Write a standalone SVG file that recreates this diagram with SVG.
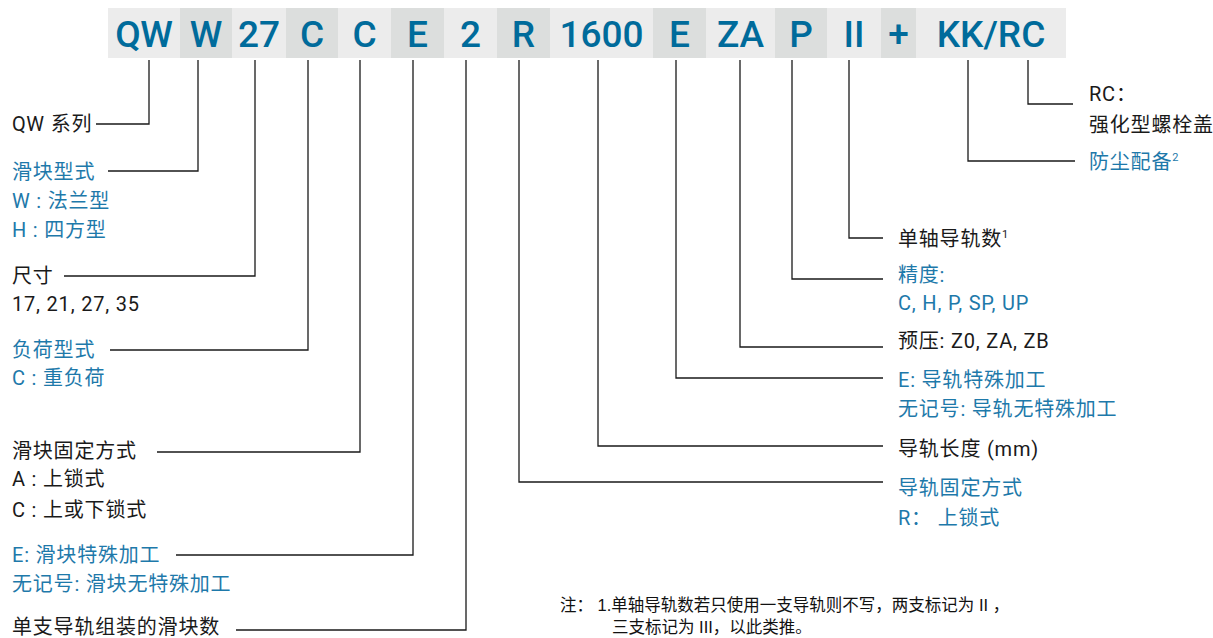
<svg xmlns="http://www.w3.org/2000/svg" width="1213" height="638" viewBox="0 0 1213 638">
<style>
.bg{fill:#ffffff}
.lt{fill:#ececec}
.dk{fill:#dcdedd}
.code{font-family:Roboto,"Noto Sans CJK SC",sans-serif;font-size:37px;font-weight:500;fill:#006b9b;text-anchor:middle}
.lbl{font-family:Roboto,"Noto Sans CJK SC",sans-serif;font-size:20px;letter-spacing:0.8px}
.k{fill:#1a1a1a}
.b{fill:#1e79aa}
.note{font-family:"Liberation Sans","Noto Sans CJK SC",sans-serif;font-size:16.5px;fill:#111111}
.sup{font-size:11px}
.conn{fill:none;stroke:#1a1a1a;stroke-width:1.3}
</style>
<rect class="bg" x="0" y="0" width="1213" height="638"/>
<g id="code-bar">
  <g id="c-qw"><rect class="lt" x="108" y="8" width="72" height="50"/><text class="code" x="144" y="47">QW</text></g>
  <g id="c-w"><rect class="dk" x="180" y="8" width="52" height="50"/><text class="code" x="206" y="47">W</text></g>
  <g id="c-27"><rect class="lt" x="232" y="8" width="54" height="50"/><text class="code" x="259" y="47">27</text></g>
  <g id="c-c1"><rect class="dk" x="286" y="8" width="52" height="50"/><text class="code" x="312" y="47">C</text></g>
  <g id="c-c2"><rect class="lt" x="338" y="8" width="53" height="50"/><text class="code" x="364.5" y="47">C</text></g>
  <g id="c-e1"><rect class="dk" x="391" y="8" width="53" height="50"/><text class="code" x="417.5" y="47">E</text></g>
  <g id="c-2"><rect class="lt" x="444" y="8" width="53" height="50"/><text class="code" x="470.5" y="47">2</text></g>
  <g id="c-r"><rect class="dk" x="497" y="8" width="53" height="50"/><text class="code" x="523.5" y="47">R</text></g>
  <g id="c-1600"><rect class="lt" x="550" y="8" width="103" height="50"/><text class="code" x="601.5" y="47">1600</text></g>
  <g id="c-e2"><rect class="dk" x="653" y="8" width="53" height="50"/><text class="code" x="679.5" y="47">E</text></g>
  <g id="c-za"><rect class="lt" x="706" y="8" width="69" height="50"/><text class="code" x="740.5" y="47">ZA</text></g>
  <g id="c-p"><rect class="dk" x="775" y="8" width="52" height="50"/><text class="code" x="801" y="47">P</text></g>
  <g id="c-ii"><rect class="lt" x="827" y="8" width="54" height="50"/><text class="code" x="854" y="47">II</text></g>
  <g id="c-plus"><rect class="dk" x="881" y="8" width="35" height="50"/><text class="code" x="898.5" y="47">+</text></g>
  <g id="c-kkrc"><rect class="lt" x="916" y="8" width="150" height="50"/><text class="code" x="991" y="47">KK/RC</text></g>
</g>
<g id="connectors">
  <path class="conn" d="M149 60V124H96"/>
  <path class="conn" d="M198 60V171H108"/>
  <path class="conn" d="M255 60V276H64"/>
  <path class="conn" d="M308 60V350H110"/>
  <path class="conn" d="M360 60V452H157"/>
  <path class="conn" d="M413 60V555H176"/>
  <path class="conn" d="M466 60V630H236"/>
  <path class="conn" d="M519 60V482H883"/>
  <path class="conn" d="M598 60V446H883"/>
  <path class="conn" d="M676 60V378H883"/>
  <path class="conn" d="M740 60V347H883"/>
  <path class="conn" d="M792 60V279H883"/>
  <path class="conn" d="M849 60V238H883"/>
  <path class="conn" d="M968 60V161H1075"/>
  <path class="conn" d="M1028 60V104H1073"/>
</g>
<g id="n-series"><text class="lbl k" x="12" y="131">QW 系列</text></g>
<g id="n-block-type">
  <text class="lbl b" x="12" y="179">滑块型式</text>
  <text class="lbl b" x="12" y="208">W : 法兰型</text>
  <text class="lbl b" x="12" y="237">H : 四方型</text>
</g>
<g id="n-size">
  <text class="lbl k" x="12" y="283">尺寸</text>
  <text class="lbl k" x="12" y="311">17, 21, 27, 35</text>
</g>
<g id="n-load">
  <text class="lbl b" x="12" y="357">负荷型式</text>
  <text class="lbl b" x="12" y="385">C : 重负荷</text>
</g>
<g id="n-block-mount">
  <text class="lbl k" x="12" y="458">滑块固定方式</text>
  <text class="lbl k" x="12" y="486">A : 上锁式</text>
  <text class="lbl k" x="12" y="517">C : 上或下锁式</text>
</g>
<g id="n-block-special">
  <text class="lbl b" x="12" y="562">E: 滑块特殊加工</text>
  <text class="lbl b" x="12" y="591">无记号: 滑块无特殊加工</text>
</g>
<g id="n-block-count"><text class="lbl k" x="12" y="634">单支导轨组装的滑块数</text></g>
<g id="n-rc">
  <text class="lbl k" x="1089" y="101">RC：</text>
  <text class="lbl k" x="1089" y="132">强化型螺栓盖</text>
</g>
<g id="n-dust"><text class="lbl b" x="1089" y="169">防尘配备<tspan class="sup" dy="-8">2</tspan></text></g>
<g id="n-rails"><text class="lbl k" x="898" y="246">单轴导轨数<tspan class="sup" dy="-8">1</tspan></text></g>
<g id="n-accuracy">
  <text class="lbl b" x="898" y="282">精度:</text>
  <text class="lbl b" x="898" y="310">C, H, P, SP, UP</text>
</g>
<g id="n-preload"><text class="lbl k" x="898" y="348">预压: Z0, ZA, ZB</text></g>
<g id="n-rail-special">
  <text class="lbl b" x="898" y="387">E: 导轨特殊加工</text>
  <text class="lbl b" x="898" y="416">无记号: 导轨无特殊加工</text>
</g>
<g id="n-rail-length"><text class="lbl k" x="898" y="456">导轨长度 (mm)</text></g>
<g id="n-rail-mount">
  <text class="lbl b" x="898" y="495">导轨固定方式</text>
  <text class="lbl b" x="898" y="525">R： 上锁式</text>
</g>
<g id="note">
  <text class="note" x="560" y="611">注： 1.单轴导轨数若只使用一支导轨则不写，两支标记为 II ，</text>
  <text class="note" x="612" y="633">三支标记为 III，以此类推。</text>
</g>
</svg>
